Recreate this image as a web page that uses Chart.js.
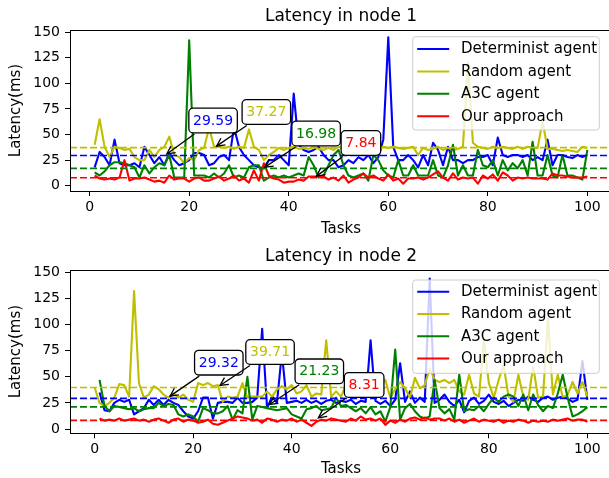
<!DOCTYPE html>
<html>
<head>
<meta charset="utf-8">
<script src="https://cdn.jsdelivr.net/npm/chart.js@4.4.1/dist/chart.umd.min.js"></script>
<style>
  html, body { margin: 0; padding: 0; background: #fff; overflow: hidden; width: 609px; height: 478px; }
  canvas.plot { position: absolute; left: 0; }
</style>
</head>
<body>
<canvas id="node1" class="plot" width="620" height="240" style="top:0px"></canvas>
<canvas id="node2" class="plot" width="620" height="238" style="top:240px"></canvas>
<script>
// ---------------- data ----------------
const SERIES_NAMES = ['Determinist agent', 'Random agent', 'A3C agent', 'Our approach'];
const X_TICKS = [0, 20, 40, 60, 80, 100];
const Y_TICKS = [0, 25, 50, 75, 100, 125, 150];

// task numbers 1..100 (the random agent in node 2 also has a task 0)
const TASKS = Array.from({ length: 100 }, (_, i) => i + 1);
const TASKS_FROM_0 = [0].concat(TASKS);

const NODE1_DETERMINIST = [
  18, 33, 28, 20, 45, 22, 20, 20, 22, 18,
  38, 30, 22, 28, 20, 32, 25, 20, 22, 25,
  32, 32, 30, 20, 22, 28, 30, 25, 57, 38,
  30, 25, 20, 18, 17, 25, 25, 30, 25, 20,
  90, 40, 35, 33, 35, 38, 30, 25, 25, 18,
  20, 25, 22, 28, 25, 30, 22, 28, 45, 145,
  38, 25, 25, 30, 25, 18, 30, 20, 42, 35,
  20, 38, 25, 25, 22, 25, 25, 28, 28, 30,
  20, 47, 30, 28, 30, 30, 28, 30, 25, 28,
  25, 45, 20, 30, 30, 28, 27, 30, 28, 30
];
const NODE1_RANDOM = [
  40, 65, 38, 28, 38, 37, 35, 36, 28, 25,
  25, 35, 28, 35, 38, 48, 30, 28, 22, 27,
  25, 35, 37, 57, 38, 38, 37, 38, 36, 38,
  37, 55, 38, 35, 25, 30, 33, 37, 35, 37,
  38, 36, 37, 36, 38, 36, 35, 37, 35, 38,
  36, 37, 36, 35, 38, 37, 35, 36, 38, 37,
  38, 37, 36, 37, 38, 30, 37, 35, 36, 38,
  35, 37, 35, 36, 38, 120, 42, 38, 37, 36,
  38, 37, 38, 37, 36, 38, 36, 38, 37, 37,
  63, 36, 36, 35, 34, 35, 34, 33, 38, 37
];
const NODE1_A3C = [
  13, 10, 14, 20, 23, 23, 22, 20, 18, 8,
  20, 12, 18, 22, 20, 30, 8, 8, 8, 142,
  10, 10, 10, 8, 12, 8, 12, 20, 8, 10,
  8, 18, 20, 20, 5, 8, 10, 8, 10, 8,
  10, 12, 10, 28, 20, 8, 10, 20, 30, 35,
  20, 10, 8, 10, 12, 5, 30, 25, 15, 10,
  8, 25, 10, 10, 20, 10, 10, 10, 25, 10,
  8, 20, 40, 10, 20, 10, 10, 35, 20, 18,
  25, 10, 25, 15, 22, 17, 25, 10, 43, 10,
  10, 30, 10, 8, 30, 10, 10, 8, 6, 35
];
const NODE1_OURS = [
  10, 7, 6, 7, 6, 8, 25, 5, 7, 7,
  8, 6, 4, 5, 3, 10, 6, 7, 7, 4,
  7, 8, 5, 5, 7, 9, 5, 7, 10, 5,
  7, 3, 15, 5, 22, 10, 7, 6, 3, 4,
  4, 6, 5, 9, 9, 9, 9, 6, 8, 5,
  10, 3, 6, 8, 12, 8, 10, 7, 5, 11,
  5, 7, 2, 7, 7, 8, 6, 8, 11, 14,
  8, 5, 12, 6, 8, 7, 8, 2, 10, 7,
  11, 5, 13, 10, 5, 8, 7, 8, 7, 7,
  7, 6, 12, 10, 10, 9, 8, 8, 8, 9
];
const NODE1_MEANS = [29.59, 37.27, 16.98, 7.84];

const NODE2_DETERMINIST = [
  35, 18, 17, 25, 28, 26, 28, 14, 17, 20,
  28, 23, 28, 23, 28, 25, 23, 17, 12, 10,
  17, 30, 30, 10, 25, 26, 26, 25, 30, 25,
  25, 26, 30, 96, 20, 31, 25, 73, 25, 26,
  27, 25, 28, 25, 27, 24, 27, 28, 25, 27,
  26, 28, 24, 27, 26, 85, 27, 24, 27, 22,
  28, 63, 26, 36, 25, 30, 26, 144, 25, 28,
  33, 26, 22, 28, 16, 27, 30, 24, 27, 33,
  26, 24, 27, 22, 25, 28, 27, 31, 28, 26,
  30, 31, 28, 30, 31, 29, 26, 28, 65, 28
];
const NODE2_RANDOM = [
  39.7,
  25, 22, 25, 30, 43, 42, 31, 132, 44, 30,
  33, 41, 38, 33, 30, 34, 30, 33, 28, 26,
  44, 42, 44, 41, 42, 26, 31, 30, 31, 44,
  30, 31, 31, 31, 36, 31, 38, 41, 38, 42,
  34, 36, 42, 31, 34, 33, 85, 31, 36, 31,
  42, 41, 36, 39, 42, 31, 33, 42, 47, 30,
  38, 45, 39, 30, 49, 39, 42, 58, 47, 45,
  47, 44, 47, 36, 33, 52, 34, 31, 85, 44,
  30, 47, 61, 31, 26, 52, 31, 28, 60, 30,
  31, 106, 33, 52, 30, 33, 45, 34, 45, 31
];
const NODE2_A3C = [
  47, 22, 17, 22, 21, 20, 19, 20, 17, 19,
  20, 20, 25, 22, 24, 23, 14, 12, 14, 12,
  7, 20, 18, 15, 15, 17, 22, 9, 18, 15,
  50, 9, 22, 21, 20, 19, 18, 19, 20, 14,
  12, 10, 19, 20, 22, 18, 19, 20, 30, 22,
  23, 20, 17, 20, 15, 21, 14, 17, 7, 21,
  76, 9, 20, 24, 17, 12, 10, 12, 47, 20,
  15, 19, 9, 52, 17, 19, 18, 22, 17, 24,
  30, 26, 31, 33, 31, 22, 33, 18, 33, 23,
  17, 22, 20, 34, 52, 30, 12, 14, 17, 21
];
const NODE2_OURS = [
  10, 8, 9, 8, 10, 8, 9, 10, 8, 9,
  7, 9, 10, 8, 6, 9, 10, 7, 9, 8,
  6, 7, 9, 5, 4, 6, 8, 10, 12, 11,
  10, 8, 9, 6, 10, 9, 7, 9, 8, 10,
  7, 9, 6, 3, 7, 9, 8, 10, 9, 8,
  7, 10, 8, 12, 9, 10, 8, 10, 4, 8,
  6, 9, 7, 10, 11, 9, 11, 9, 10, 10,
  8, 10, 7, 9, 6, 8, 10, 7, 9, 8,
  7, 9, 6, 8, 7, 9, 8, 6, 8, 7,
  8, 7, 9, 8, 9, 10, 8, 9, 9, 7
];
const NODE2_MEANS = [29.32, 39.71, 21.23, 8.31];

// ---------------- styling ----------------
const FONT = '"DejaVu Sans", "Liberation Sans", sans-serif';
const COLORS = ['#0000ff', '#bfbf00', '#008000', '#ff0000'];
const CALLOUT_FONT = 14;
const LEGEND_FONT = 15;

function roundRectPath(ctx, x, y, w, h, r) {
  ctx.beginPath();
  ctx.moveTo(x + r, y);
  ctx.lineTo(x + w - r, y);
  ctx.arcTo(x + w, y, x + w, y + r, r);
  ctx.lineTo(x + w, y + h - r);
  ctx.arcTo(x + w, y + h, x + w - r, y + h, r);
  ctx.lineTo(x + r, y + h);
  ctx.arcTo(x, y + h, x, y + h - r, r);
  ctx.lineTo(x, y + r);
  ctx.arcTo(x, y, x + r, y, r);
  ctx.closePath();
}

// boxed value label with an arrow pointing at the mean line
function drawCallout(ctx, chart, c, means) {
  const xs = chart.scales.x, ys = chart.scales.y;
  const label = means[c.series].toFixed(2);
  const tx = xs.getPixelForValue(c.text[0]), ty = ys.getPixelForValue(c.text[1]);
  const hx = xs.getPixelForValue(c.head[0]), hy = ys.getPixelForValue(c.head[1]);
  ctx.font = CALLOUT_FONT + 'px ' + FONT;
  const tw = ctx.measureText(label).width;
  const pad = 0.3 * CALLOUT_FONT;
  const bw = tw + 2 * pad, bh = 1.16 * CALLOUT_FONT + 2 * pad;
  const dx = hx - tx, dy = hy - ty;
  const len = Math.hypot(dx, dy);
  const ux = dx / len, uy = dy / len;
  const s = Math.min(Math.abs((bw / 2) / dx), Math.abs((bh / 2) / dy));
  const sx = tx + dx * s + ux * 2, sy = ty + dy * s + uy * 2;
  const ex = hx, ey = hy;
  ctx.strokeStyle = '#000';
  ctx.lineWidth = 1.3;
  ctx.lineCap = 'butt';
  ctx.beginPath(); ctx.moveTo(sx, sy); ctx.lineTo(ex, ey); ctx.stroke();
  const hl = 8, hw = 4;
  const bx = ex - ux * hl, by = ey - uy * hl;
  ctx.beginPath();
  ctx.moveTo(bx - uy * hw, by + ux * hw);
  ctx.lineTo(ex, ey);
  ctx.lineTo(bx + uy * hw, by - ux * hw);
  ctx.stroke();
  roundRectPath(ctx, tx - bw / 2, ty - bh / 2, bw, bh, pad);
  ctx.fillStyle = '#fff';
  ctx.fill();
  ctx.lineWidth = 1.3;
  ctx.stroke();
  ctx.fillStyle = COLORS[c.series];
  ctx.textAlign = 'center';
  ctx.textBaseline = 'middle';
  ctx.fillText(label, tx, ty + 0.5);
}

function drawLegend(ctx, lg) {
  roundRectPath(ctx, lg.left, lg.top, lg.width, lg.height, 3);
  ctx.fillStyle = 'rgba(255,255,255,0.8)';
  ctx.fill();
  ctx.strokeStyle = '#cccccc';
  ctx.lineWidth = 1;
  ctx.stroke();
  ctx.font = LEGEND_FONT + 'px ' + FONT;
  ctx.textAlign = 'left';
  ctx.textBaseline = 'middle';
  SERIES_NAMES.forEach((name, i) => {
    const y = lg.top + lg.firstRow + i * lg.rowGap;
    ctx.strokeStyle = COLORS[i];
    ctx.lineWidth = 2;
    ctx.beginPath();
    ctx.moveTo(lg.left + 4.5, y);
    ctx.lineTo(lg.left + 36.5, y);
    ctx.stroke();
    ctx.fillStyle = '#000';
    ctx.fillText(name, lg.left + 48.3, y + 0.5);
  });
}

const decorPlugin = {
  id: 'decor',
  afterDatasetsDraw(chart, args, opts) {
    const { ctx, chartArea: a } = chart;
    ctx.save();
    ctx.strokeStyle = '#000';
    ctx.lineWidth = 1;
    ctx.strokeRect(Math.round(a.left) + 0.5, Math.round(a.top) + 0.5,
                   Math.round(a.right - a.left), Math.round(a.bottom - a.top));
    opts.callouts.forEach(c => drawCallout(ctx, chart, c, opts.means));
    drawLegend(ctx, opts.legend);
    ctx.restore();
  }
};

function buildChart(id, spec) {
  const datasets = [];
  spec.series.forEach((s, i) => {
    datasets.push({
      label: SERIES_NAMES[i],
      data: s.values.map((v, k) => ({ x: s.tasks[k], y: v })),
      borderColor: COLORS[i],
      borderWidth: 2.1,
      borderJoinStyle: 'round',
      pointRadius: 0,
      fill: false,
      tension: 0,
      order: 10 - i
    });
  });
  spec.means.forEach((m, i) => {
    datasets.push({
      label: SERIES_NAMES[i] + ' mean',
      data: [{ x: spec.xRange[0], y: m }, { x: spec.xRange[1], y: m }],
      borderColor: COLORS[i],
      borderWidth: 1.6,
      borderDash: [7, 3],
      pointRadius: 0,
      fill: false,
      order: 0
    });
  });

  const axisFont = { family: FONT, size: 14 };
  const titleFont = { family: FONT, size: 15 };
  const tickGrid = {
    display: true, drawOnChartArea: false, drawTicks: true, tickLength: 5,
    color: '#000', tickColor: '#000', lineWidth: 1, tickWidth: 1
  };

  return new Chart(document.getElementById(id), {
    type: 'line',
    data: { datasets },
    plugins: [decorPlugin],
    options: {
      responsive: false,
      animation: false,
      events: [],
      layout: { padding: { top: 0, left: 0, right: 8, bottom: 0 } },
      plugins: {
        legend: { display: false },
        tooltip: { enabled: false },
        title: {
          display: true, text: spec.title, fullSize: false, color: '#000',
          font: { family: FONT, size: 17, weight: 'normal' },
          padding: { top: 6, bottom: 3.6 }
        },
        decor: { callouts: spec.callouts, legend: spec.legend, means: spec.means }
      },
      scales: {
        x: {
          type: 'linear',
          min: spec.xRange[0], max: spec.xRange[1],
          afterBuildTicks: s => { s.ticks = X_TICKS.map(v => ({ value: v })); },
          afterFit: s => { s.height = spec.xAxisHeight; },
          grid: tickGrid,
          border: { display: true, color: '#000', width: 1 },
          ticks: { color: '#000', font: axisFont, padding: 3, maxRotation: 0, autoSkip: false },
          title: { display: true, text: 'Tasks', color: '#000', font: titleFont,
                   padding: { top: 0, bottom: spec.xTitlePad } }
        },
        y: {
          type: 'linear',
          min: spec.yRange[0], max: spec.yRange[1],
          afterBuildTicks: s => { s.ticks = Y_TICKS.map(v => ({ value: v })); },
          afterFit: s => { s.width = 70; },
          grid: tickGrid,
          border: { display: true, color: '#000', width: 1 },
          ticks: { color: '#000', font: axisFont, padding: 5, autoSkip: false },
          title: { display: true, text: 'Latency(ms)', color: '#000', font: titleFont,
                   padding: { top: 7, bottom: 0 } }
        }
      }
    }
  });
}

buildChart('node1', {
  title: 'Latency in node 1',
  xRange: [-3.95, 104.95],
  yRange: [-5.15, 152.15],
  xAxisHeight: 49,
  xTitlePad: 2,
  means: NODE1_MEANS,
  series: [
    { tasks: TASKS, values: NODE1_DETERMINIST },
    { tasks: TASKS, values: NODE1_RANDOM },
    { tasks: TASKS, values: NODE1_A3C },
    { tasks: TASKS, values: NODE1_OURS }
  ],
  callouts: [
    { series: 0, head: [15.5, 31.0], text: [24.8, 63.7] },
    { series: 1, head: [25.5, 38.7], text: [35.5, 72.0] },
    { series: 2, head: [35.2, 18.2], text: [45.5, 51.0] },
    { series: 3, head: [45.6, 9.4], text: [54.5, 41.75] }
  ],
  legend: { left: 412.7, top: 36.7, width: 186.6, height: 93.3, firstRow: 12.3, rowGap: 22.4 }
});

buildChart('node2', {
  title: 'Latency in node 2',
  xRange: [-5, 105],
  yRange: [-4.1, 152.2],
  xAxisHeight: 44.7,
  xTitlePad: 0,
  means: NODE2_MEANS,
  series: [
    { tasks: TASKS, values: NODE2_DETERMINIST },
    { tasks: TASKS_FROM_0, values: NODE2_RANDOM },
    { tasks: TASKS, values: NODE2_A3C },
    { tasks: TASKS, values: NODE2_OURS }
  ],
  callouts: [
    { series: 0, head: [15.3, 31.5], text: [25.2, 63.5] },
    { series: 1, head: [25.45, 41.7], text: [35.6, 73.7] },
    { series: 2, head: [35.5, 23.5], text: [45.6, 55.2] },
    { series: 3, head: [45.4, 10.7], text: [54.7, 42.1] }
  ],
  legend: { left: 412.7, top: 40, width: 186.6, height: 93.3, firstRow: 11.7, rowGap: 22.3 }
});
</script>
</body>
</html>
